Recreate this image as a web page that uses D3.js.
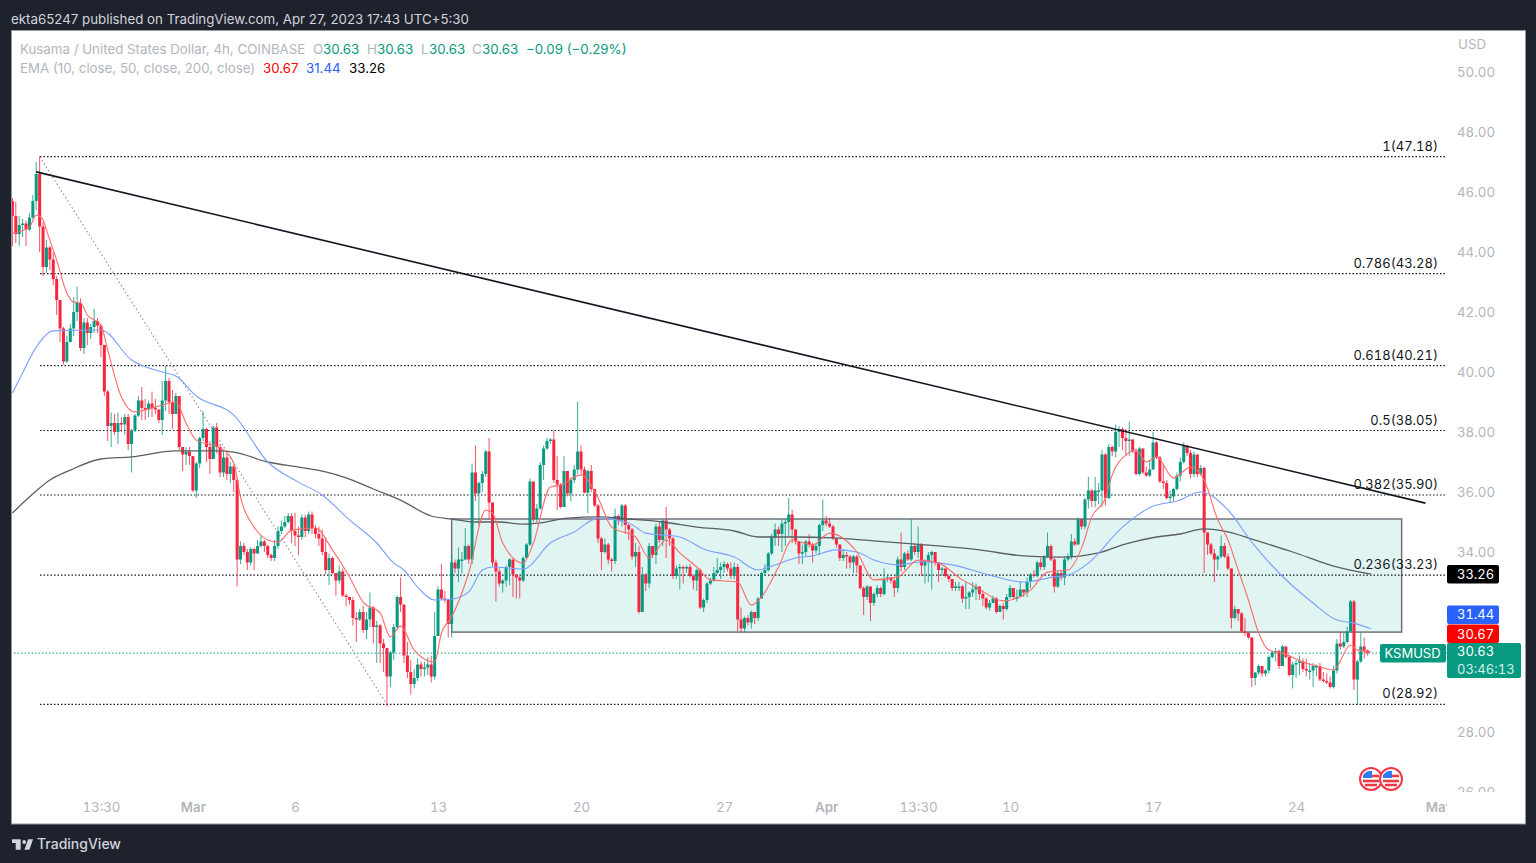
<!DOCTYPE html>
<html lang="en">

<head>
    <meta charset="UTF-8">
    <title>KSMUSD 4h</title>
    <style>
        body {
            margin: 0;
            background: #1e222d;
        }

        svg {
            display: block;
        }

        text {
            font-family: Inter, "Liberation Sans", sans-serif;
            font-size: 13.3px;
        }

        .num {
            font-variant-numeric: tabular-nums;
            font-size: 13px;
        }

        .axis text {
            fill: #b2b5be;
            font-family: Inter, "Liberation Sans", sans-serif;
            font-size: 13.3px;
            font-variant-numeric: tabular-nums;
        }

        .axis .domain,
        .axis line {
            display: none;
        }
    </style>
</head>

<body>
    <svg id="chart" width="1536" height="863"></svg>

    <script src="https://d3js.org/d3.v7.min.js"></script>
    <script>
        // 4h candles, one row per day, Feb 20 to Apr 27 2023. Open is the previous close.
        const closes = [
            45.7, 45.2, 44.6, 44.9, 44.95, 44.75,
            45.15, 45.7, 46.6, 44.85, 43.5, 44.15,
            43.75, 43.1, 42.4, 41.45, 40.35, 41.0,
            41.45, 42.0, 42.3, 40.8, 41.65, 41.3,
            41.5, 41.7, 41.55, 40.9, 39.35, 38.2,
            38.3, 38.0, 38.3, 38.25, 38.5, 37.6,
            38.05, 38.55, 39.05, 38.8, 38.75, 38.95,
            38.8, 38.75, 38.4, 39.05, 39.7, 39.0,
            38.6, 39.2, 37.5, 37.25, 37.35, 37.2,
            36.05, 36.95, 37.8, 38.1, 37.5, 37.1,
            38.15, 37.5, 36.65, 37.15, 36.6, 36.85,
            36.4, 33.75, 34.2, 34.0, 33.65, 34.1,
            33.95, 34.2, 34.35, 34.2, 33.9, 33.8,
            34.2, 34.7, 34.85, 35.0, 35.2, 34.7,
            34.55, 34.5, 35.15, 34.7, 35.25, 34.8,
            34.6, 34.45, 34.0, 33.4, 33.8, 33.3,
            33.05, 33.35, 32.55, 32.5, 32.4, 31.8,
            31.75, 32.0, 31.4, 31.75, 32.15, 31.5,
            31.55, 30.95, 30.8, 29.85, 30.65, 31.5,
            32.5, 32.25, 30.55, 30.0, 29.6, 29.8,
            30.25, 30.1, 30.15, 30.25, 29.85, 31.2,
            32.75, 32.45, 32.4, 31.6, 33.65, 33.45,
            33.75, 33.75, 34.2, 33.75, 36.65, 35.95,
            36.3, 36.6, 37.35, 35.65, 33.65, 33.35,
            32.95, 33.05, 33.5, 33.75, 33.25, 33.15,
            33.05, 33.8, 34.25, 36.35, 35.1, 35.45,
            36.9, 37.45, 37.7, 37.75, 36.4, 36.25,
            35.5, 36.7, 35.95, 36.4, 36.75, 37.35,
            36.75, 35.98, 36.7, 36.1, 35.55, 34.45,
            34.0, 34.25, 33.75, 33.7, 35.2, 35.05,
            35.55, 34.9, 34.75, 33.85, 34.0, 32.0,
            33.25, 32.95, 34.2, 33.9, 34.85, 34.4,
            35.05, 34.75, 34.45, 33.2, 33.45, 33.5,
            33.45, 33.5, 33.2, 33.05, 33.4, 32.15,
            32.4, 32.95, 33.05, 33.3, 33.4, 33.5,
            33.6, 33.45, 33.2, 33.5, 31.75, 31.45,
            31.8, 31.65, 32.0, 31.8, 32.45, 33.3,
            33.4, 33.95, 34.5, 34.75, 34.6, 34.95,
            35.0, 35.25, 34.75, 34.35, 33.95, 34.0,
            34.35, 34.25, 34.05, 34.2, 34.9, 35.05,
            34.95, 34.85, 34.45, 34.25, 33.8, 33.9,
            33.85, 33.65, 33.85, 33.55, 32.8, 32.5,
            32.85, 32.3, 32.6, 32.8, 32.6, 33.1,
            33.15, 33.05, 32.8, 33.75, 33.5, 33.95,
            33.75, 34.2, 34.0, 34.25, 33.55, 33.7,
            33.9, 34.0, 33.65, 33.4, 33.45, 33.2,
            33.1, 32.8, 32.85, 32.85, 32.45, 32.5,
            32.65, 32.75, 32.85, 32.6, 32.45, 32.15,
            32.3, 32.45, 32.0, 32.2, 32.1, 32.5,
            32.8, 32.5, 32.5, 32.75, 32.65, 33.0,
            33.25, 33.2, 33.65, 33.5, 33.85, 34.2,
            33.75, 32.85, 33.3, 33.15, 33.75, 33.85,
            34.35, 34.25, 35.1, 34.85, 35.75, 36.05,
            35.7, 36.05, 36.05, 37.25, 35.8, 37.5,
            37.35, 38.0, 38.1, 37.8, 37.7, 37.75,
            37.35, 36.6, 37.45, 36.65, 36.55, 36.75,
            37.65, 37.15, 36.35, 36.3, 35.8, 35.85,
            36.1, 36.55, 37.0, 37.55, 37.3, 36.6,
            37.25, 36.6, 36.8, 34.65, 34.25, 33.95,
            33.75, 33.85, 34.2, 33.85, 33.45, 31.8,
            32.1, 31.95, 31.35, 31.3, 31.15, 29.8,
            29.98, 30.2, 29.95, 30.05, 30.5, 30.65,
            30.7, 30.2, 30.85, 30.5, 29.9, 30.25,
            30.3, 30.35, 30.1, 30.05, 30.05, 30.2,
            30.2, 29.75, 29.7, 29.65, 29.5, 30.05,
            30.95, 30.85, 31.0, 31.35, 32.35, 29.75,
            30.35, 30.85, 30.72, 30.63
        ];
        const highs = [
            45.8, 45.8, 45.67, 45.2, 45.1, 45.05,
            45.3, 45.9, 47.0, 47.18, 45.0, 44.4,
            44.2, 44.0, 43.2, 42.3, 41.5, 41.2,
            41.6, 42.5, 42.85, 42.45, 41.8, 41.8,
            41.6, 42.1, 41.8, 41.5, 40.9, 39.4,
            38.65, 38.6, 38.65, 38.5, 38.6, 38.6,
            38.1, 38.6, 39.2, 39.5, 39.1, 39.05,
            39.35, 39.1, 38.7, 39.7, 40.2, 39.8,
            39.4, 39.3, 39.2, 37.5, 37.5, 37.5,
            37.2, 37.0, 37.85, 38.7, 38.15, 37.7,
            38.2, 38.3, 37.6, 37.4, 37.3, 37.0,
            36.9, 36.45, 34.35, 34.3, 34.1, 34.15,
            34.15, 34.4, 34.55, 34.4, 34.25, 33.95,
            34.4, 34.85, 35.05, 35.2, 35.3, 35.3,
            35.3, 34.85, 35.25, 35.25, 35.35, 35.35,
            34.9, 34.85, 34.75, 34.5, 33.95, 33.85,
            33.1, 33.55, 33.45, 32.6, 32.5, 32.5,
            32.0, 32.1, 32.2, 32.0, 32.65, 32.2,
            31.7, 31.6, 31.1, 30.7, 30.7, 31.6,
            32.55, 33.15, 32.1, 31.0, 30.4, 30.1,
            30.45, 30.35, 30.35, 30.5, 30.55, 32.0,
            32.85, 33.6, 32.7, 32.2, 33.9, 33.75,
            34.15, 34.0, 34.8, 34.25, 36.95, 37.55,
            36.35, 36.7, 37.4, 37.8, 35.6, 33.75,
            33.45, 33.1, 33.55, 33.8, 33.3, 33.2,
            33.2, 33.85, 34.3, 36.45, 36.0, 35.6,
            37.0, 37.55, 37.8, 37.8, 38.05, 37.2,
            36.3, 37.2, 36.6, 36.5, 36.9, 39.0,
            37.55, 36.85, 36.75, 36.9, 35.7, 35.6,
            34.5, 34.45, 34.3, 33.8, 35.45, 35.25,
            35.6, 35.6, 34.95, 34.8, 34.3, 34.2,
            33.5, 33.3, 34.3, 34.2, 34.95, 35.0,
            35.1, 35.5, 34.8, 34.5, 33.55, 33.6,
            33.55, 33.55, 33.6, 33.25, 33.45, 33.45,
            32.45, 33.0, 33.15, 33.5, 33.8, 33.65,
            33.7, 33.65, 33.65, 33.65, 33.6, 32.15,
            31.85, 31.9, 32.05, 32.0, 32.5, 33.35,
            33.6, 34.0, 34.6, 34.95, 34.85, 35.1,
            35.1, 35.8, 35.4, 34.45, 34.05, 34.25,
            34.4, 34.6, 34.3, 34.3, 34.95, 35.75,
            35.2, 35.15, 34.9, 34.3, 34.15, 34.1,
            34.0, 33.9, 33.9, 33.9, 33.5, 32.85,
            32.9, 32.7, 32.65, 32.9, 32.85, 33.45,
            33.25, 33.15, 33.1, 33.85, 34.65, 34.0,
            34.05, 35.1, 34.3, 34.85, 34.3, 33.75,
            34.0, 34.05, 34.0, 33.6, 33.5, 33.4,
            33.25, 33.1, 33.0, 33.0, 32.9, 33.0,
            32.7, 33.0, 32.95, 32.85, 32.7, 32.5,
            32.4, 32.55, 32.5, 32.25, 32.3, 32.6,
            32.9, 32.8, 32.75, 33.0, 32.75, 33.15,
            33.3, 33.4, 33.7, 33.8, 33.9, 34.65,
            34.25, 33.8, 33.4, 33.4, 33.85, 33.95,
            34.6, 34.45, 35.15, 35.1, 35.8, 36.5,
            36.1, 36.5, 36.3, 37.4, 37.3, 37.6,
            37.55, 38.25, 38.2, 38.15, 38.1, 38.35,
            37.7, 37.45, 37.5, 37.4, 36.85, 37.05,
            38.0, 37.7, 37.2, 36.9, 36.4, 36.05,
            36.15, 36.65, 37.15, 37.65, 37.55, 37.4,
            37.35, 37.2, 36.9, 36.85, 34.6, 34.3,
            34.1, 33.9, 34.55, 34.3, 33.95, 33.4,
            32.2, 32.05, 32.0, 31.8, 31.3, 31.15,
            30.0, 30.25, 30.2, 30.1, 30.55, 30.7,
            30.8, 30.75, 30.9, 30.85, 30.55, 30.35,
            30.4, 30.55, 30.45, 30.45, 30.3, 30.3,
            30.25, 30.3, 30.0, 29.95, 29.85, 30.2,
            31.1, 31.35, 31.3, 31.5, 32.4, 32.4,
            30.4, 31.3, 31.15, 30.75
        ];
        const lows = [
            44.9, 44.2, 44.3, 44.2, 44.5, 44.2,
            44.7, 45.1, 45.4, 44.0, 43.2, 43.3,
            43.4, 42.9, 41.9, 41.0, 40.25, 40.3,
            41.0, 41.2, 41.7, 40.7, 40.6, 40.9,
            41.1, 41.3, 41.3, 40.5, 39.2, 37.7,
            37.5, 37.9, 37.6, 38.0, 37.9, 37.4,
            36.65, 38.0, 38.5, 38.4, 38.4, 38.5,
            38.5, 38.6, 38.3, 37.9, 38.7, 38.6,
            38.1, 39.0, 37.4, 36.7, 36.9, 36.9,
            36.0, 35.8, 36.8, 37.7, 37.0, 36.6,
            37.2, 37.3, 36.5, 36.5, 36.4, 36.3,
            36.0, 32.85, 33.6, 33.9, 33.4, 33.55,
            33.4, 34.05, 34.15, 34.0, 33.8, 33.7,
            33.7, 34.1, 34.6, 34.8, 34.95, 34.3,
            34.2, 33.9, 34.4, 34.5, 34.6, 34.6,
            34.45, 34.2, 33.9, 33.25, 32.9, 33.25,
            32.55, 32.95, 32.5, 32.2, 32.25, 31.55,
            31.0, 31.7, 31.3, 31.1, 31.5, 30.95,
            30.3, 30.3, 30.0, 28.85, 29.5, 30.4,
            31.4, 32.0, 30.3, 29.8, 29.25, 29.45,
            29.7, 29.85, 29.85, 29.9, 29.65, 29.75,
            32.4, 32.4, 32.3, 31.15, 31.15, 33.3,
            33.0, 33.3, 33.9, 33.6, 33.6, 35.7,
            34.9, 36.0, 36.5, 35.1, 33.5, 32.35,
            32.85, 32.65, 32.85, 32.9, 32.5, 32.45,
            32.45, 33.0, 33.9, 34.2, 35.0, 35.0,
            35.4, 36.4, 37.4, 37.6, 36.3, 35.4,
            35.45, 35.7, 35.85, 35.7, 36.3, 36.6,
            36.6, 35.95, 35.3, 36.0, 35.5, 34.3,
            33.4, 33.95, 33.6, 33.35, 33.6, 34.9,
            34.85, 34.6, 34.4, 33.75, 33.5, 31.95,
            32.2, 32.7, 32.8, 33.8, 33.6, 34.3,
            34.2, 33.8, 34.2, 33.1, 33.1, 32.75,
            32.95, 33.3, 33.15, 32.75, 32.7, 32.1,
            32.0, 32.3, 32.9, 33.0, 33.25, 33.1,
            33.3, 33.35, 33.1, 33.1, 31.35, 31.3,
            31.3, 31.55, 31.45, 31.6, 31.7, 32.45,
            33.2, 33.35, 33.9, 34.2, 34.2, 34.0,
            34.2, 34.5, 34.3, 34.25, 33.6, 33.6,
            33.85, 34.15, 33.65, 33.95, 33.9, 34.7,
            34.85, 34.8, 34.4, 34.15, 33.7, 33.7,
            33.45, 33.45, 33.3, 33.3, 32.75, 31.9,
            32.4, 31.7, 32.2, 32.5, 32.5, 32.55,
            33.0, 32.95, 32.5, 32.65, 33.35, 33.4,
            33.7, 33.7, 33.9, 33.8, 33.2, 32.95,
            33.0, 32.75, 33.55, 33.0, 33.2, 33.15,
            33.0, 32.7, 32.7, 32.7, 32.3, 32.1,
            32.1, 32.5, 32.4, 32.4, 32.2, 32.1,
            32.05, 32.3, 31.95, 32.0, 31.75, 32.05,
            32.45, 32.4, 32.35, 32.5, 32.5, 32.5,
            32.8, 33.15, 33.15, 33.4, 33.4, 33.8,
            33.7, 32.65, 32.8, 33.05, 32.9, 33.7,
            33.75, 34.2, 34.4, 34.75, 34.75, 35.45,
            35.5, 35.5, 35.6, 35.5, 35.55, 35.75,
            37.2, 37.15, 37.5, 37.4, 37.2, 37.2,
            37.3, 36.55, 36.55, 36.6, 36.5, 36.5,
            36.9, 37.1, 36.3, 36.1, 35.75, 35.65,
            35.7, 36.05, 36.35, 36.95, 37.2, 36.45,
            36.5, 36.5, 36.55, 33.3, 33.9, 33.9,
            33.0, 33.4, 33.8, 33.8, 33.4, 31.45,
            31.75, 31.7, 31.3, 31.2, 31.1, 29.5,
            29.55, 29.9, 29.85, 29.85, 29.95, 30.45,
            30.35, 30.1, 30.45, 30.45, 29.85, 29.45,
            29.8, 29.9, 30.0, 29.85, 29.75, 29.5,
            29.85, 29.7, 29.65, 29.6, 29.45, 29.45,
            29.95, 30.75, 30.8, 30.95, 31.4, 29.4,
            28.9, 30.3, 30.45, 30.55
        ];
        const firstOpen = 45.5;

        // EMA lines: candle index and price
        const ema10Idx = [1, 6, 8, 10, 11, 14, 17, 19, 21, 23, 27, 29, 33, 37, 43, 49, 52, 55, 62, 66, 68, 72, 76, 79, 83, 90, 95, 100, 104, 109, 112, 115, 119, 125, 127, 130, 135, 140, 142, 145, 151, 154, 159, 162, 168, 173, 177, 184, 188, 193, 197, 202, 206, 214, 218, 221, 226, 230, 236, 241, 249, 254, 261, 267, 273, 280, 284, 292, 300, 305, 311, 315, 318, 322, 324, 328, 331, 334, 337, 342, 347, 351, 355, 358, 361, 364, 367, 370, 374, 380, 385, 389, 394, 396, 400];
        const ema10Values = [44.63, 44.83, 45.23, 45.07, 44.73, 43.73, 42.63, 42.33, 42.3, 41.9, 41.57, 40.73, 39.17, 38.67, 38.83, 39.0, 38.3, 37.73, 37.47, 36.97, 35.83, 34.83, 34.4, 34.33, 34.73, 34.8, 34.07, 33.17, 32.33, 31.97, 31.17, 31.53, 30.73, 30.33, 31.3, 31.83, 33.3, 35.4, 35.3, 34.3, 33.63, 34.3, 36.17, 36.23, 36.57, 35.8, 34.83, 34.5, 33.8, 34.4, 33.97, 33.5, 33.07, 33.0, 32.23, 32.5, 33.5, 34.4, 34.23, 34.63, 34.0, 33.07, 33.17, 33.73, 33.63, 33.07, 32.83, 32.37, 32.73, 33.33, 33.4, 34.13, 35.17, 35.8, 36.57, 37.23, 37.4, 37.0, 37.17, 36.47, 36.83, 36.4, 35.07, 34.4, 33.4, 32.4, 31.3, 30.73, 30.63, 30.33, 30.17, 30.07, 30.9, 30.73, 30.67];
        const ema50Idx = [1, 4, 8, 13, 27, 36, 46, 49, 55, 66, 76, 85, 92, 100, 108, 113, 116, 120, 125, 130, 135, 139, 142, 151, 159, 166, 173, 182, 187, 197, 204, 213, 220, 224, 231, 236, 243, 249, 254, 261, 268, 277, 288, 298, 307, 311, 317, 327, 336, 343, 350, 358, 365, 373, 383, 390, 395, 400];
        const ema50Values = [39.3, 39.97, 40.83, 41.37, 41.4, 40.4, 39.97, 39.87, 39.2, 38.57, 37.0, 36.33, 35.9, 35.07, 34.3, 33.63, 33.4, 32.83, 32.4, 32.43, 32.67, 33.4, 33.5, 33.43, 34.3, 34.67, 35.13, 34.97, 34.63, 34.5, 34.1, 33.83, 33.4, 33.53, 33.8, 33.87, 34.07, 34.0, 33.73, 33.57, 33.67, 33.57, 33.23, 33.0, 33.17, 33.23, 33.63, 34.83, 35.53, 35.7, 36.0, 35.4, 34.33, 33.3, 32.3, 31.73, 31.63, 31.44];
        const ema200Idx = [1, 6, 12, 18, 27, 36, 49, 61, 66, 76, 85, 93, 99, 107, 115, 124, 130, 137, 144, 151, 156, 164, 173, 182, 192, 202, 213, 220, 230, 242, 254, 270, 285, 298, 309, 320, 328, 337, 344, 351, 358, 365, 377, 389, 400];
        const ema200Values = [35.3, 35.83, 36.4, 36.73, 37.1, 37.17, 37.37, 37.37, 37.33, 37.0, 36.83, 36.67, 36.47, 36.1, 35.73, 35.2, 35.1, 35.0, 35.0, 34.93, 34.97, 35.13, 35.17, 35.1, 35.0, 34.83, 34.7, 34.5, 34.5, 34.47, 34.37, 34.23, 34.07, 33.87, 33.83, 33.97, 34.27, 34.5, 34.6, 34.77, 34.67, 34.43, 34.0, 33.53, 33.26];

        // fibonacci retracement
        const fibRatios = ["1", "0.786", "0.618", "0.5", "0.382", "0.236", "0"];
        const fibPrices = [47.18, 43.28, 40.21, 38.05, 35.90, 33.23, 28.92];

        // drawings, in candle index and price
        const trendIdx = [8, 416];
        const trendPrices = [46.67, 35.63];
        const fibDiagIdx = [9, 111];
        const fibDiagPrices = [47.18, 28.92];
        const boxIdx = [130, 409];
        const boxPrices = [35.1, 31.33];

        const priceTicks = [50, 48, 46, 44, 42, 40, 38, 36, 34, 32, 30, 28, 26];
        const timeTicks = [
            [new Date(Date.UTC(2023, 1, 24, 12)), "13:30", false],
            [new Date(Date.UTC(2023, 2, 1)), "Mar", true],
            [new Date(Date.UTC(2023, 2, 6)), "6", false],
            [new Date(Date.UTC(2023, 2, 13)), "13", false],
            [new Date(Date.UTC(2023, 2, 20)), "20", false],
            [new Date(Date.UTC(2023, 2, 27)), "27", false],
            [new Date(Date.UTC(2023, 3, 1)), "Apr", true],
            [new Date(Date.UTC(2023, 3, 5, 12)), "13:30", false],
            [new Date(Date.UTC(2023, 3, 10)), "10", false],
            [new Date(Date.UTC(2023, 3, 17)), "17", false],
            [new Date(Date.UTC(2023, 3, 24)), "24", false],
            [new Date(Date.UTC(2023, 4, 1)), "May", true]
        ];

        const lastPrice = 30.63;
        const GREEN = "#089981", RED = "#f7253f";

        const svg = d3.select("#chart");
        const start = new Date(Date.UTC(2023, 1, 20));
        const timeOf = i => d3.utcHour.offset(start, i * 4);

        const x = d3.scaleUtc().domain([start, new Date(Date.UTC(2023, 4, 1))]).range([9, 1439.1]);
        const y = d3.scaleLinear().domain([50, 28]).range([72, 732]);
        const xi = i => x(timeOf(i));

        const defs = svg.append("defs");
        defs.append("clipPath").attr("id", "plot").append("rect")
            .attr("x", 12).attr("y", 31).attr("width", 1435).attr("height", 792);
        defs.append("clipPath").attr("id", "yclip").append("rect")
            .attr("x", 1447).attr("y", 31).attr("width", 78).attr("height", 761);
        defs.append("clipPath").attr("id", "xclip").append("rect")
            .attr("x", 12).attr("y", 795).attr("width", 1435).attr("height", 28);

        // panel
        svg.append("rect").attr("x", 11.5).attr("y", 30.5).attr("width", 1514).attr("height", 793.5)
            .attr("fill", "#fff").attr("stroke", "#9598a1").attr("stroke-width", 1);

        svg.append("text").attr("x", 11).attr("y", 24).attr("fill", "#d1d4dc")
            .text("ekta65247 published on TradingView.com, Apr 27, 2023 17:43 UTC+5:30");

        const plot = svg.append("g").attr("clip-path", "url(#plot)");

        // rectangle drawing
        plot.append("rect")
            .attr("x", xi(boxIdx[0])).attr("y", y(boxPrices[0]))
            .attr("width", xi(boxIdx[1]) - xi(boxIdx[0]))
            .attr("height", y(boxPrices[1]) - y(boxPrices[0]))
            .attr("fill", "#e0f4f1").attr("stroke", "#70737c").attr("stroke-width", 1.5);

        // fib levels
        plot.selectAll(".fib").data(fibPrices).join("line").attr("class", "fib")
            .attr("x1", 40).attr("x2", 1447)
            .attr("y1", d => y(d)).attr("y2", d => y(d))
            .attr("stroke", "#131722").attr("stroke-width", 1.2).attr("stroke-dasharray", "1.5 2");

        plot.append("line")
            .attr("x1", 0).attr("x2", 1447).attr("y1", y(lastPrice)).attr("y2", y(lastPrice))
            .attr("stroke", GREEN).attr("stroke-width", 1).attr("stroke-dasharray", "1.5 2");

        plot.append("line")
            .attr("x1", xi(fibDiagIdx[0])).attr("y1", y(fibDiagPrices[0]))
            .attr("x2", xi(fibDiagIdx[1])).attr("y2", y(fibDiagPrices[1]))
            .attr("stroke", "#8a8d94").attr("stroke-width", 1.1).attr("stroke-dasharray", "1.5 2.5");

        // candles
        const candles = closes.map((c, i) => {
            const o = i ? closes[i - 1] : firstOpen;
            return { i, o, c, h: Math.max(highs[i], o, c), l: Math.min(lows[i], o, c) };
        });
        const candle = plot.selectAll(".candle").data(candles).join("g").attr("class", "candle")
            .attr("fill", d => d.c >= d.o ? GREEN : RED)
            .attr("stroke", d => d.c >= d.o ? GREEN : RED);
        candle.append("line")
            .attr("x1", d => xi(d.i)).attr("x2", d => xi(d.i))
            .attr("y1", d => y(d.h)).attr("y2", d => y(d.l))
            .attr("stroke-width", 1).attr("stroke-opacity", .8);
        candle.append("rect")
            .attr("x", d => xi(d.i) - 1.5).attr("width", 3)
            .attr("y", d => y(Math.max(d.o, d.c)))
            .attr("height", d => Math.max(1.5, Math.abs(y(d.o) - y(d.c))))
            .attr("stroke", "none");

        // EMAs
        const emaLine = idx => d3.line().x((d, i) => xi(idx[i])).y(d => y(d)).curve(d3.curveMonotoneX);
        plot.append("path").attr("d", emaLine(ema200Idx)(ema200Values))
            .attr("fill", "none").attr("stroke", "#5b5e66").attr("stroke-width", 1.3);
        plot.append("path").attr("d", emaLine(ema50Idx)(ema50Values))
            .attr("fill", "none").attr("stroke", "#7ba0ff").attr("stroke-width", 1.1);
        plot.append("path").attr("d", emaLine(ema10Idx)(ema10Values))
            .attr("fill", "none").attr("stroke", "#ff6b6b").attr("stroke-width", 1.1);

        // trend line
        plot.append("line")
            .attr("x1", xi(trendIdx[0])).attr("y1", y(trendPrices[0]))
            .attr("x2", xi(trendIdx[1])).attr("y2", y(trendPrices[1]))
            .attr("stroke", "#131722").attr("stroke-width", 1.6);

        // fib labels
        plot.selectAll(".fibLabel").data(fibPrices).join("text").attr("class", "fibLabel num")
            .attr("x", 1438).attr("y", d => y(d) - 6)
            .attr("text-anchor", "end").attr("fill", "#131722")
            .text((d, i) => fibRatios[i] + "(" + d.toFixed(2) + ")");

        // axes
        const yAxis = d3.axisRight(y).tickValues(priceTicks).tickFormat(d3.format(".2f")).tickSize(0).tickPadding(0);
        svg.append("g").attr("clip-path", "url(#yclip)").append("g").attr("class", "axis")
            .attr("transform", "translate(1457,0)").call(yAxis);

        const xAxis = d3.axisBottom(x).tickValues(timeTicks.map(d => d[0])).tickSize(0).tickPadding(0)
            .tickFormat((d, i) => timeTicks[i][1]);
        const xg = svg.append("g").attr("clip-path", "url(#xclip)").append("g").attr("class", "axis")
            .attr("transform", "translate(0,803)").call(xAxis);
        xg.selectAll(".tick text").attr("font-weight", (d, i) => timeTicks[i][2] ? 600 : 400);

        svg.append("text").attr("x", 1458).attr("y", 49).attr("fill", "#b2b5be").text("USD");

        // legend
        const legend1 = [
            [20, "Kusama / United States Dollar, 4h, COINBASE", "#b2b5be"],
            [313, "O", "#b2b5be"], [323, "30.63", GREEN],
            [367, "H", "#b2b5be"], [377, "30.63", GREEN],
            [421, "L", "#b2b5be"], [429, "30.63", GREEN],
            [472, "C", "#b2b5be"], [482, "30.63", GREEN],
            [526, "−0.09 (−0.29%)", GREEN]
        ];
        const legend2 = [
            [20, "EMA (10, close, 50, close, 200, close)", "#b2b5be"],
            [263, "30.67", "#ff0000"], [306, "31.44", "#2962ff"], [349, "33.26", "#000"]
        ];
        svg.selectAll(".leg1").data(legend1).join("text").attr("class", "leg1")
            .attr("x", d => d[0]).attr("y", 54).attr("fill", d => d[2]).text(d => d[1]);
        svg.selectAll(".leg2").data(legend2).join("text").attr("class", "leg2")
            .attr("x", d => d[0]).attr("y", 73).attr("fill", d => d[2]).text(d => d[1]);

        // price labels, stacked so they do not hide one another
        const priceBoxes = [[33.26, "#000000", 0], [31.44, "#2962ff", -14], [30.67, "#ff0000", -18]];
        const tag = svg.selectAll(".tag").data(priceBoxes).join("g").attr("class", "tag");
        tag.append("rect").attr("x", 1447).attr("width", 52).attr("height", 18.5).attr("rx", 2)
            .attr("y", d => y(d[0]) + d[2] - 9.3).attr("fill", d => d[1]);
        tag.append("text").attr("class", "num").attr("x", 1457).attr("y", d => y(d[0]) + d[2] + 4.6).attr("fill", "#fff")
            .text(d => d[0].toFixed(2));

        svg.append("rect").attr("x", 1447).attr("y", 643).attr("width", 74).attr("height", 35)
            .attr("rx", 2).attr("fill", GREEN);
        svg.append("text").attr("class", "num").attr("x", 1457).attr("y", 656).attr("fill", "#fff").text(lastPrice.toFixed(2));
        svg.append("text").attr("class", "num").attr("x", 1457).attr("y", 673.5).attr("fill", "#cfeee8").text("03:46:13");

        svg.append("rect").attr("x", 1380).attr("y", 644).attr("width", 66).attr("height", 18.5)
            .attr("rx", 2).attr("fill", GREEN);
        svg.append("text").attr("x", 1384.5).attr("y", 658).attr("fill", "#fff")
            .style("font-size", "13px").text("KSMUSD");

        // flag markers
        const flag = svg.selectAll(".flag").data([1371, 1391]).join("g").attr("class", "flag")
            .attr("transform", d => `translate(${d},779)`);
        flag.append("circle").attr("r", 11).attr("fill", "#fff").attr("stroke", "#f23645").attr("stroke-width", 2);
        flag.append("path").attr("d", "M-8 -3H8 M-8 2H8 M-6 6H6").attr("stroke", "#f23645").attr("stroke-width", 2.4);
        flag.append("path").attr("d", "M-8 -1 V-3 A8 8 0 0 1 1 -8 V-1Z").attr("fill", "#3179f5");

        // footer
        svg.append("path").attr("transform", "translate(12,838) scale(0.62)")
            .attr("d", "M14 2H0v6h6v11h8V2Zm14 17h-8l6-17h8l-6 17Z").attr("fill", "#d1d4dc");
        svg.append("circle").attr("cx", 24.2).attr("cy", 842).attr("r", 1.9).attr("fill", "#d1d4dc");
        svg.append("text").attr("x", 37).attr("y", 849).attr("fill", "#d1d4dc")
            .style("font-size", "14px").style("font-weight", 500).text("TradingView");
    </script>
</body>

</html>
